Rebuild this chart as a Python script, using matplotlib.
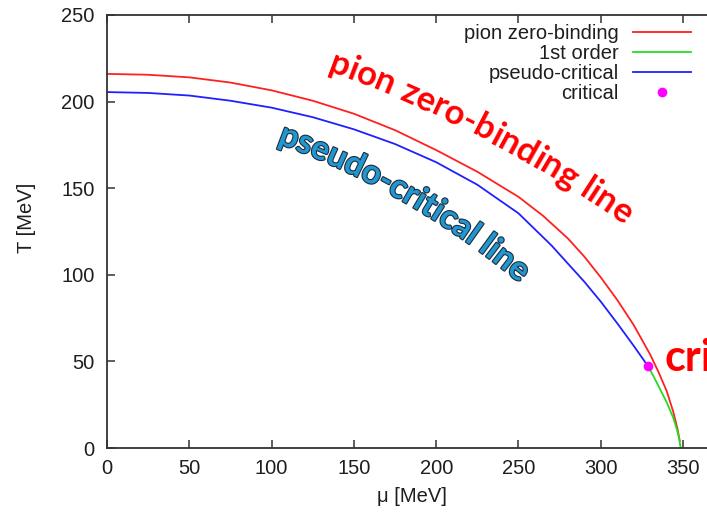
import math
import matplotlib
matplotlib.use("Agg")
import matplotlib.pyplot as plt
from matplotlib.font_manager import FontProperties
import matplotlib.patheffects as pe

# ---- data (mu in MeV, T in MeV) ----
mu_pion = [0, 25, 50, 75, 100, 125, 150, 175, 200, 225, 250, 265, 280, 290,
           300, 310, 320, 330, 335, 340, 344, 346.5, 348]
T_pion = [216, 215.5, 214, 211, 206.5, 200.5, 193, 183.5, 172, 159.5, 145, 134,
          121, 110.5, 98.5, 85.5, 71, 54, 44, 33, 21, 11.5, 4]

mu_first = [328.5, 332, 336, 340, 344, 346, 347.5, 348.5]
T_first = [47.5, 41.5, 34, 26.5, 17.5, 11.5, 6, 0]

mu_pseudo = [0, 25, 50, 75, 100, 125, 150, 175, 200, 225, 250, 270, 290, 300,
             310, 320, 328.5]
T_pseudo = [205.5, 205, 203.5, 200.5, 196.5, 191, 184, 175.5, 165, 152, 135.5,
            117, 96, 84.5, 72, 59, 47.5]

mu_crit = [328.5]
T_crit = [47.5]

x_ticks = [0, 50, 100, 150, 200, 250, 300, 350]
y_ticks = [0, 50, 100, 150, 200, 250]

series_labels = ["pion zero-binding", "1st order", "pseudo-critical", "critical"]

W, H = 707, 513
plt.rcParams["font.family"] = ["Liberation Sans", "DejaVu Sans"]
fig = plt.figure(figsize=(W / 100, H / 100), dpi=100)

# plot frame in pixel terms: left 107, bottom 448, top 15, right edge past the canvas
left_px, right_px, top_px, bot_px = 107, 716, 15, 448
ax = fig.add_axes([left_px / W, 1 - bot_px / H,
                   (right_px - left_px) / W, (bot_px - top_px) / H])

l1, = ax.plot(mu_pion, T_pion, color="#ff2020", lw=1.3, label=series_labels[0])
l2, = ax.plot(mu_first, T_first, color="#22dd22", lw=1.3, label=series_labels[1])
l3, = ax.plot(mu_pseudo, T_pseudo, color="#2020ff", lw=1.3, label=series_labels[2])
l4, = ax.plot(mu_crit, T_crit, linestyle="none", marker="o", markersize=7,
              color="#ff00ff", markeredgewidth=0, label=series_labels[3])

ax.set_xlim(0, 370)
ax.set_ylim(0, 250)
ax.set_xticks(x_ticks)
ax.set_yticks(y_ticks)
txt_col = "#1e1e1e"
ax.tick_params(direction="in", top=True, right=True, length=6, width=1.1,
               color="#333333", labelsize=14.5, labelcolor=txt_col)
ax.tick_params(axis="y", pad=9)
ax.tick_params(axis="x", pad=8)
for sp in ax.spines.values():
    sp.set_color("#333333")
    sp.set_linewidth(1.3)

ax.set_xlabel("\u03bc [MeV]", fontsize=14.5, color=txt_col)
ax.set_ylabel("T [MeV]", fontsize=14.5, color=txt_col)
ax.xaxis.label.set_va("center")
ax.xaxis.set_label_coords(0.5, (bot_px - 496) / (bot_px - top_px))
ax.yaxis.label.set_va("center")
ax.yaxis.set_label_coords((26 - left_px) / (right_px - left_px),
                          (bot_px - 218) / (bot_px - top_px))

leg = ax.legend(handles=[l1, l2, l3, l4], loc="upper right",
                bbox_to_anchor=(691 / W, 1 - 24 / H),
                bbox_transform=fig.transFigure, frameon=False, markerfirst=False,
                fontsize=14.5, handlelength=2.9, handletextpad=0.7,
                labelspacing=0.05, borderpad=0, borderaxespad=0)
for t in leg.get_texts():
    t.set_color(txt_col)


def text_on_arc(s, x0, y0, a0, a1, fp, **kw):
    """Lay out string s along a circular arc starting at pixel (x0, y0)
    (y measured downward), with tangent angle going from a0 to a1 degrees."""
    renderer = fig.canvas.get_renderer()
    bar_w = renderer.get_text_width_height_descent("|", fp, ismath=False)[0]

    def adv(t):
        return renderer.get_text_width_height_descent(t + "|", fp, ismath=False)[0] - bar_w

    total = adv(s)
    k = math.radians(a1 - a0) / total
    th0 = math.radians(a0)
    yu0 = H - y0
    for i, ch in enumerate(s):
        if ch == " ":
            continue
        start = adv(s[:i])
        w = adv(s[:i + 1]) - start
        d = start + w / 2
        if abs(k) < 1e-12:
            x = x0 + d * math.cos(th0)
            y = yu0 + d * math.sin(th0)
        else:
            x = x0 + (math.sin(th0 + k * d) - math.sin(th0)) / k
            y = yu0 - (math.cos(th0 + k * d) - math.cos(th0)) / k
        fig.text(x / W, y / H, ch, rotation=math.degrees(th0 + k * d),
                 rotation_mode="anchor", ha="center", va="baseline",
                 fontproperties=fp, **kw)


fp_pion = FontProperties(family=["Lato", "DejaVu Sans"], weight="bold", size=25)
text_on_arc("pion zero-binding line", 327, 71, -20, -35, fp_pion, color="#ff0000")

fp_pseudo = FontProperties(family=["Lato", "DejaVu Sans"], weight="bold", size=24)
text_on_arc("pseudo-critical line", 277, 143, -20, -40, fp_pseudo, color="#2196d0",
            path_effects=[pe.Stroke(linewidth=1.6, foreground="#1d2d3d"), pe.Normal()])

fig.text(664 / W, 1 - 371 / H, "critical", color="#ff0000", fontsize=31,
         fontweight="bold", family=["Lato", "DejaVu Sans"], ha="left", va="baseline")

fig.savefig("out.png", dpi=100)
